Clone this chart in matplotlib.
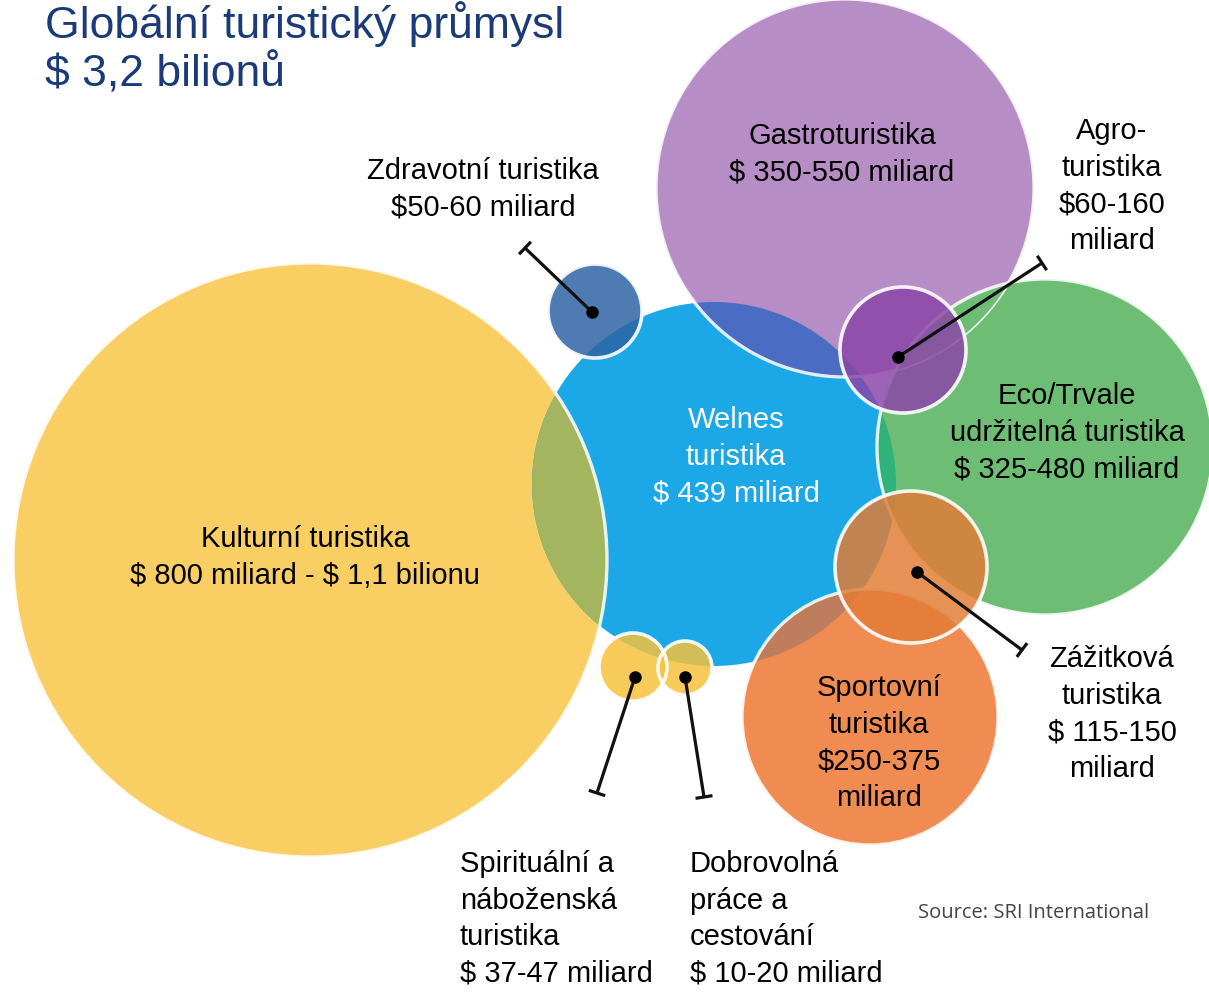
import matplotlib
matplotlib.use("Agg")
import matplotlib.pyplot as plt
from matplotlib.patches import Circle
import numpy as np

# ------------------------------------------------------------------ data
categories = [
    "Kulturní turistika", "Welnes turistika", "Gastroturistika",
    "Eco/Trvale udržitelná turistika", "Sportovní turistika",
    "Zážitková turistika", "Agroturistika", "Zdravotní turistika",
    "Spirituální a náboženská turistika", "Dobrovolná práce a cestování",
]
value_low_bn = [800, 439, 350, 325, 250, 115, 60, 50, 37, 10]     # miliard USD
value_high_bn = [1100, 439, 550, 480, 375, 150, 160, 60, 47, 20]  # miliard USD
labels = [
    "Kulturní turistika\n$ 800 miliard - $ 1,1 bilionu",
    "Welnes\nturistika\n$ 439 miliard",
    "Gastroturistika\n$ 350-550 miliard",
    "Eco/Trvale\nudržitelná turistika\n$ 325-480 miliard",
    "Sportovní\nturistika\n$250-375\nmiliard",
    "Zážitková\nturistika\n$ 115-150\nmiliard",
    "Agro-\nturistika\n$60-160\nmiliard",
    "Zdravotní turistika\n$50-60 miliard",
    "Spirituální a\nnáboženská\nturistika\n$ 37-47 miliard",
    "Dobrovolná\npráce a\ncestování\n$ 10-20 miliard",
]
title_lines = ["Globální turistický průmysl", "$ 3,2 bilionů"]
source_text = "Source: SRI International"

# ------------------------------------------------------------------ layout (pixel space)
W, H = 1209, 1005
centers = [(310, 560), (714, 484), (845, 188), (1045, 447), (870, 717),
           (911, 567), (903, 350), (595, 311), (633, 667), (685, 668)]
radii = [297, 182, 189, 168, 128, 76, 63, 47, 34, 27]
colors = ["#F9CE62", "#1CA8E7", "#B68DC4", "#6DBE74", "#F08B52",
          "#E27C36", "#8A45A8", "#2C63A3", "#F6C23A", "#F6C23A"]
big = [0, 1, 2, 3, 4]
small = [5, 6, 7, 8, 9]
# overlap colours of the large bubbles (a, b, colour, zorder)
lens_pairs = [(0, 1, "#A3B55E", 2), (1, 2, "#4A6DC3", 2), (1, 3, "#2FB37A", 2),
              (1, 4, "#BE7E5D", 2), (2, 3, "#6DBE74", 3.5)]
# light rims of the large bubbles (index, zorder)
rims = [(0, 3), (2, 3), (3, 3.6), (4, 3)]

# label anchors: (x, first baseline y, ha, text colour)
label_pos = [(305, 547, "center", "black"), (736, 428, "center", "white"),
             (842, 144, "center", "black"), (1067, 404, "center", "black"),
             (879, 696, "center", "black"), (1112, 667, "center", "black"),
             (1112, 139, "center", "black"), (483, 179, "center", "black"),
             (460, 872, "left", "black"), (690, 872, "left", "black")]
line_step = 36.5
# leader lines: category index -> (dot xy, end xy)
leaders = {7: ((592, 312), (525, 248)), 6: ((898, 357), (1042, 263)),
           5: ((917, 572), (1022, 650)), 8: ((635, 677), (597, 793)),
           9: ((685, 677), (704, 797))}

FONT = ["Liberation Sans", "DejaVu Sans"]
fig = plt.figure(figsize=(W / 100, H / 100), dpi=100)
ax = fig.add_axes([0, 0, 1, 1])
ax.set_xlim(0, W)
ax.set_ylim(H, 0)
ax.set_aspect("equal")
ax.axis("off")

# big bubbles
for i in big:
    ax.add_patch(Circle(centers[i], radii[i], facecolor=colors[i],
                        edgecolor="none", zorder=1 + 0.01 * i))
# overlaps
for a, b, c, z in lens_pairs:
    clip = Circle(centers[a], radii[a], transform=ax.transData)
    p = Circle(centers[b], radii[b], facecolor=c, edgecolor="none", zorder=z)
    ax.add_patch(p)
    p.set_clip_path(clip)
# light rims
for i, z in rims:
    ax.add_patch(Circle(centers[i], radii[i], facecolor="none",
                        edgecolor="white", lw=2.4, alpha=0.85, zorder=z))
# small bubbles
for i in small:
    ax.add_patch(Circle(centers[i], radii[i], facecolor=colors[i], alpha=0.84,
                        edgecolor="none", zorder=4))
    ax.add_patch(Circle(centers[i], radii[i], facecolor="none",
                        edgecolor="white", lw=2.6, alpha=0.9, zorder=4.5))

# leader lines with dot and end tick
for i, (p0, p1) in leaders.items():
    ax.plot([p0[0], p1[0]], [p0[1], p1[1]], color="#111111", lw=2.3,
            zorder=5, solid_capstyle="butt")
    ax.plot([p0[0]], [p0[1]], "o", color="black", ms=8, zorder=5.5)
    d = np.array(p1, float) - np.array(p0, float)
    n = np.array([-d[1], d[0]]) / np.hypot(*d)
    t0 = np.array(p1) - 7 * n
    t1 = np.array(p1) + 7 * n
    ax.plot([t0[0], t1[0]], [t0[1], t1[1]], color="#111111", lw=2.3, zorder=5)

# labels
for i, lab in enumerate(labels):
    x, y0, ha, col = label_pos[i]
    for k, line in enumerate(lab.split("\n")):
        ax.text(x, y0 + k * line_step, line, ha=ha, va="baseline",
                fontsize=21, color=col, family=FONT, zorder=6,
                parse_math=False)

# title
ax.text(45, 38, title_lines[0], ha="left", va="baseline", fontsize=32,
        color="#1B3A7A", family=FONT, zorder=6, parse_math=False)
ax.text(45, 86, title_lines[1], ha="left", va="baseline", fontsize=32,
        color="#1B3A7A", family=FONT, zorder=6, parse_math=False)
# source
ax.text(918, 918, source_text, ha="left", va="baseline", fontsize=14.5,
        color="#444444", family=["Open Sans", "DejaVu Sans"], zorder=6,
        parse_math=False)

fig.savefig("out.png", dpi=100)
